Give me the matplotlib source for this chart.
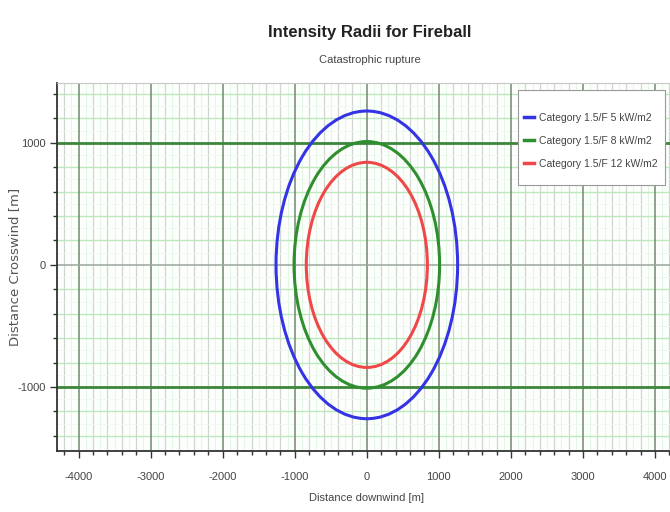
import matplotlib
matplotlib.use("Agg")
import matplotlib.pyplot as plt
from matplotlib.patches import Circle, Rectangle
from matplotlib.lines import Line2D
from matplotlib.ticker import MultipleLocator

# fireball intensity radii (m)
categories = ['Category 1.5/F 5 kW/m2', 'Category 1.5/F 8 kW/m2', 'Category 1.5/F 12 kW/m2']
radii = [1260, 1010, 840]
colors = ['#3434e6', '#2f8f2f', '#f04848']
x_ticks = [-4000, -3000, -2000, -1000, 0, 1000, 2000, 3000, 4000]
y_ticks = [-1000, 0, 1000]

plt.rcParams['font.family'] = ['Liberation Sans', 'DejaVu Sans']
plt.rcParams['axes.unicode_minus'] = False

fig = plt.figure(figsize=(6.7, 5.12), dpi=100)
ax = fig.add_axes([0.085, 0.119, 0.925, 0.719])
ax.set_facecolor('#fdfffd')

ax.set_xlim(-4300, 4300)
ax.set_ylim(-1525, 1490)

# grid: faint green lines, grey every 200 on x, darker majors
ax.xaxis.set_minor_locator(MultipleLocator(200))
ax.yaxis.set_minor_locator(MultipleLocator(200))
for xv in range(-4300, 4400, 100):
    if xv % 200 != 0:
        ax.axvline(xv, color='#e4f6e4', lw=0.8, zorder=0)
    elif xv % 1000 != 0:
        ax.axvline(xv, color='#d2d6d2', lw=0.9, zorder=0)
    else:
        ax.axvline(xv, color='#6f8a6f', lw=1.1, zorder=1)
for yv in range(-1400, 1500, 100):
    if yv % 200 != 0:
        ax.axhline(yv, color='#eef9ee', lw=0.6, zorder=0)
    elif yv % 1000 != 0:
        ax.axhline(yv, color='#bde8bd', lw=1.0, zorder=0)
    elif yv == 0:
        ax.axhline(yv, color='#9aa69a', lw=1.1, zorder=1)
    else:
        ax.axhline(yv, color='#3a863a', lw=2.0, zorder=1)

# intensity circles
for r, c, lab in zip(radii, colors, categories):
    ax.add_patch(Circle((0, 0), r, fill=False, edgecolor=c, lw=2.2, zorder=3))

ax.set_xticks(x_ticks)
ax.set_yticks(y_ticks)
ax.tick_params(axis='both', which='major', direction='out', length=5, width=1,
               color='#333333', labelsize=8, labelcolor='#444444')
ax.tick_params(axis='x', which='major', pad=10)
ax.tick_params(axis='y', which='major', pad=3)
ax.tick_params(axis='both', which='minor', direction='out', length=3, width=1, color='#333333')

for side in ['top', 'right']:
    ax.spines[side].set_color('#c8c8c8')
for side in ['left', 'bottom']:
    ax.spines[side].set_color('#333333')
    ax.spines[side].set_linewidth(1.3)

ax.set_xlabel('Distance downwind [m]', fontsize=8, color='#444444', labelpad=8)
ax.set_ylabel('Distance Crosswind [m]', fontsize=9.5, color='#555555',
              family=['DejaVu Sans'])
ax.yaxis.set_label_coords(-0.058, 0.5)

fig.text(0.552, 0.937, 'Intensity Radii for Fireball', ha='center', va='center',
         fontsize=12, fontweight='bold', color='#222222')
fig.text(0.552, 0.882, 'Catastrophic rupture', ha='center', va='center',
         fontsize=8, color='#444444')

# legend box is roomier vertically than horizontally, so frame drawn separately
ax.add_patch(Rectangle((0.744, 0.723), 0.237, 0.258, transform=ax.transAxes,
                       facecolor='white', edgecolor='#999999', lw=0.8, zorder=4))
handles = [Line2D([], [], color=c, lw=2.5) for c in colors]
leg = ax.legend(handles, categories, loc='upper left', bbox_to_anchor=(0.7535, 0.9185),
                fontsize=7.5, handlelength=1.0, handletextpad=0.4, labelspacing=1.25,
                borderpad=0, borderaxespad=0, frameon=False)
leg.set_zorder(5)
for t in leg.get_texts():
    t.set_color('#444444')

fig.savefig('out.png', dpi=100)
